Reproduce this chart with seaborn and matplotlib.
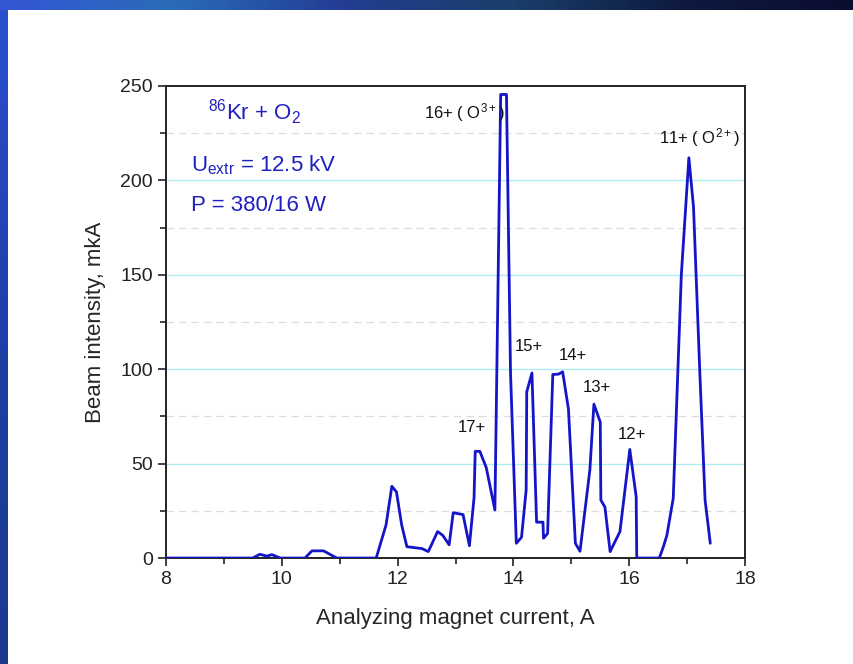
import numpy as np
import pandas as pd
import seaborn as sns
import matplotlib.pyplot as plt
from matplotlib.colors import LinearSegmentedColormap
from matplotlib.ticker import MultipleLocator

# beam spectrum
current = [8.0, 9.5, 9.62, 9.74, 9.83, 9.97, 10.4, 10.52, 10.72, 10.95,
           11.63, 11.80, 11.90, 11.98, 12.07, 12.16, 12.42, 12.53, 12.69, 12.78,
           12.89, 12.96, 13.13, 13.24, 13.32, 13.34, 13.42, 13.53, 13.68, 13.78,
           13.88, 13.95, 14.05, 14.14, 14.22, 14.23, 14.32, 14.40, 14.51, 14.52,
           14.59, 14.68, 14.78, 14.85, 14.95, 15.07, 15.15, 15.32, 15.39, 15.50,
           15.51, 15.58, 15.67, 15.84, 16.01, 16.12, 16.13, 16.52, 16.59, 16.65,
           16.76, 16.90, 17.03, 17.11, 17.22, 17.31, 17.40]
intensity = [0, 0, 2, 1, 1.8, 0, 0, 3.8, 3.8, 0,
             0, 17.5, 38, 35, 17.5, 6, 5, 3.4, 14, 12,
             7, 24, 23, 6.5, 32, 56.5, 56.5, 48, 25.5, 245.5,
             245.5, 98, 7.8, 11, 36, 88, 98, 19, 19, 10.5,
             13, 97.2, 97.4, 98.6, 79, 7.8, 3.6, 46.6, 81.5, 72,
             30.7, 27, 3.4, 14, 57.5, 32.5, 0, 0, 6, 12,
             31.6, 150, 212, 186, 97.7, 30.7, 7.8]

# charge state labels: text, x, y
peak_labels = ['16+ ( O$^{3+}$)', '11+ ( O$^{2+}$)', '17+', '15+', '14+', '13+', '12+']
label_x = [12.46, 16.52, 13.03, 14.03, 14.78, 15.20, 15.81]
label_y = [232.6, 219.7, 66.8, 109.7, 105.0, 88.0, 63.3]

df = pd.DataFrame({'current': current, 'intensity': intensity})

sns.set_style('ticks')
plt.rcParams['font.family'] = ['Liberation Sans', 'DejaVu Sans']
plt.rcParams['mathtext.fontset'] = 'custom'
plt.rcParams['mathtext.rm'] = 'Liberation Sans'
plt.rcParams['mathtext.default'] = 'regular'

fig = plt.figure(figsize=(8.54, 6.64), dpi=100)
fig.patch.set_facecolor('white')

# blue frame strips of the slide
top = fig.add_axes([0, 1 - 10 / 664, 1, 10 / 664])
top_cmap = LinearSegmentedColormap.from_list('top', ['#3556d6', '#2a6cb8', '#233d93', '#1a3f6a', '#0e1a40', '#0b0d30'])
top.imshow(np.linspace(0, 1, 256)[None, :], aspect='auto', cmap=top_cmap)
top.axis('off')
left = fig.add_axes([0, 0, 8 / 854, 1 - 10 / 664])
left_cmap = LinearSegmentedColormap.from_list('left', ['#2c4fd0', '#1e40a8', '#1c3a8e'])
left.imshow(np.linspace(0, 1, 256)[:, None], aspect='auto', cmap=left_cmap)
left.axis('off')

ax = fig.add_axes([0.1944, 0.1596, 0.678, 0.7109])
sns.lineplot(data=df, x='current', y='intensity', ax=ax, color='#1414c8',
             linewidth=2.0, estimator=None, sort=False, zorder=3)

ax.set_xlim(8, 18)
ax.set_ylim(0, 250)
ax.xaxis.set_major_locator(MultipleLocator(2))
ax.xaxis.set_minor_locator(MultipleLocator(1))
ax.yaxis.set_major_locator(MultipleLocator(50))
ax.yaxis.set_minor_locator(MultipleLocator(25))
ax.tick_params(which='both', direction='out', width=1.2, colors='#222222', labelsize=14)
ax.tick_params(which='major', length=6)
ax.tick_params(which='minor', length=4)
for s in ax.spines.values():
    s.set_linewidth(1.4)
    s.set_color('#222222')

for v in [50, 100, 150, 200]:
    ax.axhline(v, color='#aeeef0', linewidth=1.0, zorder=1)
for v in [25, 75, 125, 175, 225]:
    ax.axhline(v, color='#dddddd', linewidth=0.9, linestyle=(0, (6, 4)), zorder=1)

ax.set_xlabel('Analyzing magnet current, A', fontsize=16, labelpad=14)
ax.set_ylabel('Beam intensity, mkA', fontsize=16, labelpad=10)

blue = '#2020c0'
ax.text(8.73, 232, '$^{86}$Kr + O$_2$', color=blue, fontsize=16)
ax.text(8.44, 205, 'U$_{extr}$ = 12.5 kV', color=blue, fontsize=16)
ax.text(8.44, 184, 'P = 380/16 W', color=blue, fontsize=16)

for t, x, y in zip(peak_labels, label_x, label_y):
    ax.text(x, y, t, fontsize=12, color='#111111')

fig.savefig('out.png', dpi=100)
